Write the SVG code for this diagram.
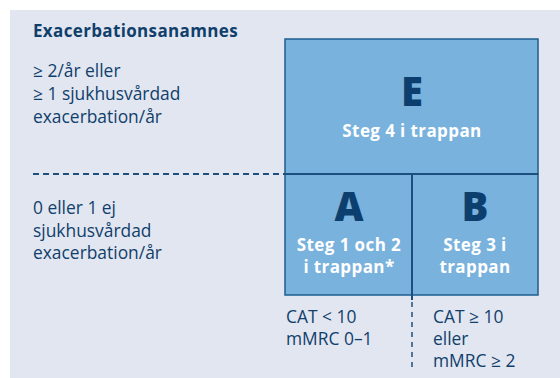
<svg xmlns="http://www.w3.org/2000/svg" width="560" height="378" viewBox="0 0 560 378">
<style>
.t{font-family:"Open Sans","Liberation Sans",sans-serif;fill:#103f6c;font-size:17.4px}
.h{font-weight:bold;font-size:17px;letter-spacing:0.35px}
.big{font-family:"Open Sans","Liberation Sans",sans-serif;font-weight:800;fill:#0d3f6e;font-size:40px;text-anchor:middle}
.w{font-family:"Open Sans","Liberation Sans",sans-serif;font-weight:bold;fill:#ffffff;font-size:17px;letter-spacing:0.4px;text-anchor:middle}
.box{fill:#79b2dd;stroke:#1d5e8e;stroke-width:1.5}
</style>
<rect x="0" y="0" width="560" height="378" fill="#ffffff"/>
<rect x="10" y="10" width="550" height="368" fill="#e2e6f0"/>
<g id="labels-left">
<text class="t h" x="33" y="37">Exacerbationsanamnes</text>
<text class="t" x="33" y="77">≥ 2/år eller</text>
<text class="t" x="33" y="100">≥ 1 sjukhusvårdad</text>
<text class="t" x="33" y="123">exacerbation/år</text>
<text class="t" x="33" y="214">0 eller 1 ej</text>
<text class="t" x="33" y="237">sjukhusvårdad</text>
<text class="t" x="33" y="259">exacerbation/år</text>
</g>
<g id="node-E">
<rect class="box" x="285" y="39" width="253" height="135"/>
<text class="big" x="412" y="106">E</text>
<text class="w" x="412" y="137">Steg 4 i trappan</text>
</g>
<g id="node-A">
<rect class="box" x="285" y="174" width="127" height="121"/>
<text class="big" x="349" y="221">A</text>
<text class="w" x="349" y="251">Steg 1 och 2</text>
<text class="w" x="349" y="273">i trappan*</text>
</g>
<g id="node-B">
<rect class="box" x="412" y="174" width="126" height="121"/>
<text class="big" x="475" y="221">B</text>
<text class="w" x="475" y="251">Steg 3 i</text>
<text class="w" x="475" y="273">trappan</text>
</g>
<g id="connectors" stroke="#1d4f7e" stroke-width="2" fill="none">
<line x1="285" y1="174" x2="538" y2="174"/>
<line x1="412" y1="174" x2="412" y2="300"/>
<line x1="33" y1="174" x2="285" y2="174" stroke-dasharray="6,4"/>
<line x1="412" y1="302" x2="412" y2="372" stroke-dasharray="5,5" stroke-width="1.5"/>
</g>
<g id="labels-bottom">
<text class="t" x="286" y="323">CAT &lt; 10</text>
<text class="t" x="286" y="345">mMRC 0–1</text>
<text class="t" x="433" y="323">CAT ≥ 10</text>
<text class="t" x="433" y="345">eller</text>
<text class="t" x="433" y="367">mMRC ≥ 2</text>
</g>
</svg>
